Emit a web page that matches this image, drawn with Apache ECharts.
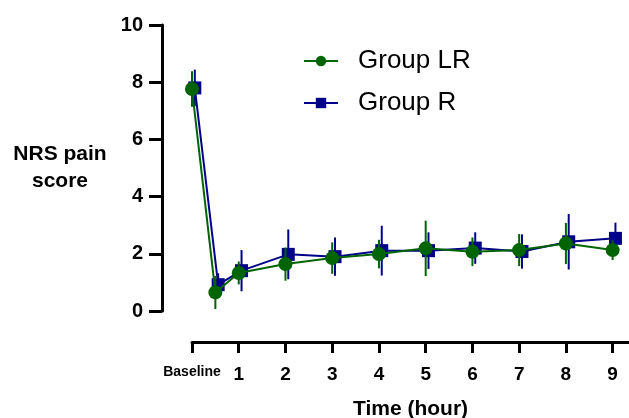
<!DOCTYPE html>
<html>
<head>
<meta charset="utf-8">
<script src="https://cdn.jsdelivr.net/npm/echarts@6/dist/echarts.min.js"></script>
<style>
  html, body { margin: 0; padding: 0; background: #fff; }
  #chart { width: 629px; height: 418px; }
</style>
</head>
<body>
<div id="chart"></div>
<script>
// data (mean +/- error)
var times = [0, 0.5, 1, 2, 3, 4, 5, 6, 7, 8, 9];
var lrMean = [7.76, 0.65, 1.33, 1.64, 1.85, 1.99, 2.19, 2.07, 2.13, 2.36, 2.13];
var lrErr = [0.62, 0.58, 0.40, 0.58, 0.55, 0.50, 0.97, 0.50, 0.56, 0.72, 0.35];
var rMean = [7.80, 0.92, 1.41, 1.98, 1.90, 2.11, 2.11, 2.20, 2.08, 2.42, 2.54];
var rErr = [0.64, 0.40, 0.72, 0.87, 0.67, 0.87, 0.64, 0.55, 0.60, 0.97, 0.55];
var xTickValues = [0, 1, 2, 3, 4, 5, 6, 7, 8, 9];
var xTickLabels = ['Baseline', '1', '2', '3', '4', '5', '6', '7', '8', '9'];

var GREEN = '#006400';
var BLUE = '#000088';
var FONT = 'Arial, "Liberation Sans", sans-serif';
var rNudge = 0.06; // group R drawn slightly right, as in the figure

function points(mean, shift) {
    return times.map(function (t, i) { return [t + shift, mean[i]]; });
}
function bars(mean, err, shift) {
    return times.map(function (t, i) { return [t + shift, mean[i] - err[i], mean[i] + err[i]]; });
}
function errorBar(color) {
    return function (params, api) {
        var p1 = api.coord([api.value(0), api.value(1)]);
        var p2 = api.coord([api.value(0), api.value(2)]);
        return {
            type: 'line',
            shape: { x1: p1[0], y1: p1[1], x2: p2[0], y2: p2[1] },
            style: { stroke: color, lineWidth: 2 }
        };
    };
}

var chart = echarts.init(document.getElementById('chart'));
chart.setOption({
    animation: false,
    grid: { left: 192, right: 0, top: 25, bottom: 107, containLabel: false, outerBoundsMode: 'none' },
    legend: {
        data: ['Group LR', 'Group R'],
        orient: 'vertical',
        left: 298,
        top: 43,
        itemWidth: 34,
        itemHeight: 13,
        itemGap: 16,
        textStyle: { fontFamily: FONT, fontSize: 26, color: '#000', padding: [0, 0, 0, 15] }
    },
    xAxis: {
        type: 'value',
        min: 0,
        max: 9.35,
        interval: 1,
        offset: 31,
        name: 'Time (hour)',
        nameLocation: 'middle',
        nameGap: 57,
        nameTextStyle: { fontFamily: FONT, fontSize: 21, fontWeight: 'bold', color: '#000' },
        axisLine: { onZero: false, lineStyle: { color: '#000', width: 3 } },
        axisTick: { show: true, length: 11, lineStyle: { color: '#000', width: 3 }, customValues: xTickValues },
        splitLine: { show: false },
        axisLabel: {
            customValues: xTickValues,
            margin: 23,
            fontFamily: FONT,
            fontSize: 19,
            fontWeight: 'bold',
            color: '#000',
            formatter: function (v) {
                var lab = xTickLabels[xTickValues.indexOf(v)];
                return v === 0 ? '{s|' + lab + '}' : lab;
            },
            rich: { s: { fontFamily: FONT, fontSize: 14, fontWeight: 'bold', color: '#000' } }
        }
    },
    yAxis: {
        type: 'value',
        min: 0,
        max: 10,
        interval: 2,
        offset: 30,
        name: 'NRS pain\nscore',
        nameLocation: 'middle',
        nameRotate: 0,
        nameGap: 102,
        nameTextStyle: { fontFamily: FONT, fontSize: 21, fontWeight: 'bold', color: '#000', align: 'center', lineHeight: 27 },
        axisLine: { show: true, onZero: false, lineStyle: { color: '#000', width: 3 } },
        axisTick: { show: true, length: 13, lineStyle: { color: '#000', width: 3 } },
        splitLine: { show: false },
        axisLabel: { margin: 19, fontFamily: FONT, fontSize: 20, fontWeight: 'bold', color: '#000' }
    },
    series: [
        {
            name: 'R err',
            type: 'custom',
            renderItem: errorBar(BLUE),
            encode: { x: 0, y: [1, 2] },
            data: bars(rMean, rErr, rNudge),
            z: 2
        },
        {
            name: 'Group R',
            type: 'line',
            data: points(rMean, rNudge),
            symbol: 'rect',
            symbolSize: 13,
            showAllSymbol: true,
            color: BLUE,
            lineStyle: { color: BLUE, width: 2 },
            itemStyle: { color: BLUE },
            z: 3
        },
        {
            name: 'LR err',
            type: 'custom',
            renderItem: errorBar(GREEN),
            encode: { x: 0, y: [1, 2] },
            data: bars(lrMean, lrErr, 0),
            z: 4
        },
        {
            name: 'Group LR',
            type: 'line',
            data: points(lrMean, 0),
            symbol: 'circle',
            symbolSize: 14,
            showAllSymbol: true,
            color: GREEN,
            lineStyle: { color: GREEN, width: 2 },
            itemStyle: { color: GREEN },
            z: 5
        }
    ]
});
</script>
</body>
</html>
